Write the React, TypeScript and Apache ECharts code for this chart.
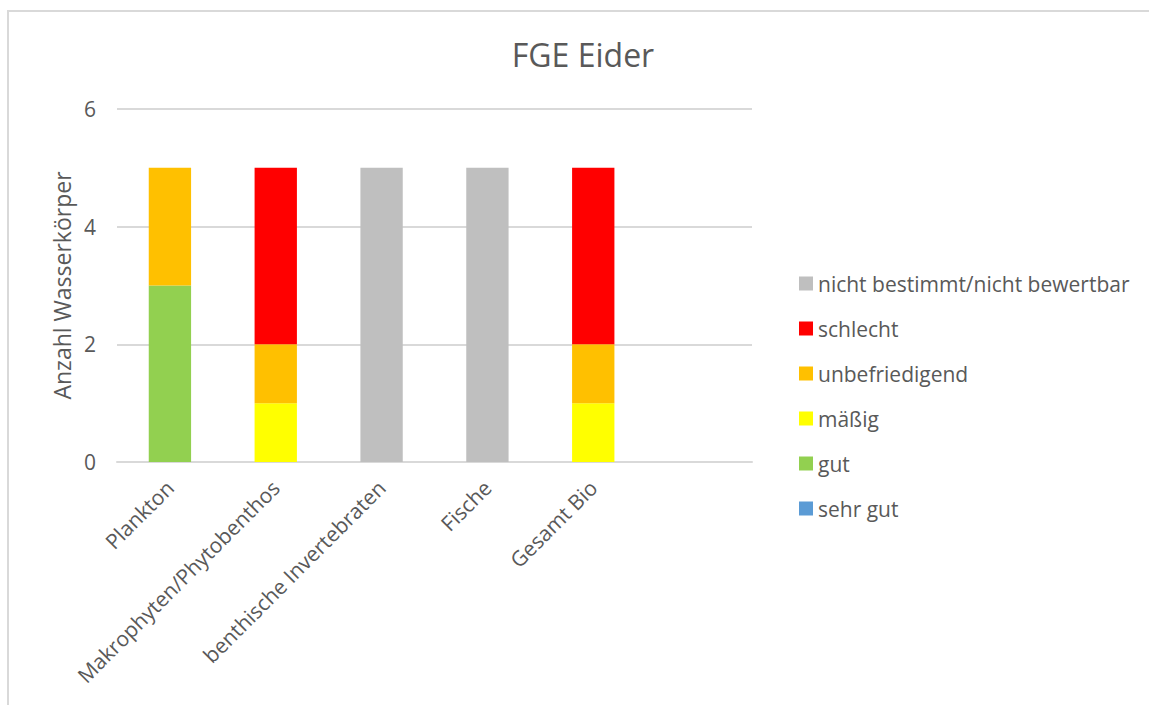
import React, { useEffect, useRef } from "react";
import * as echarts from "echarts";

// Categories (last slot is an empty placeholder column)
const categories = [
  "Plankton",
  "Makrophyten/Phytobenthos",
  "benthische Invertebraten",
  "Fische",
  "Gesamt Bio",
  "",
];

// Number of water bodies per status class, stacked bottom to top
const sehrGut = [0, 0, 0, 0, 0, 0];
const gut = [3, 0, 0, 0, 0, 0];
const maessig = [0, 1, 0, 0, 1, 0];
const unbefriedigend = [2, 1, 0, 0, 1, 0];
const schlecht = [0, 3, 0, 0, 3, 0];
const nichtBestimmt = [0, 0, 5, 5, 0, 0];

const yTicks = { min: 0, max: 6, interval: 2 };

const seriesDefs = [
  { name: "sehr gut", data: sehrGut, color: "#5B9BD5" },
  { name: "gut", data: gut, color: "#92D050" },
  { name: "mäßig", data: maessig, color: "#FFFF00" },
  { name: "unbefriedigend", data: unbefriedigend, color: "#FFC000" },
  { name: "schlecht", data: schlecht, color: "#FF0000" },
  { name: "nicht bestimmt/nicht bewertbar", data: nichtBestimmt, color: "#BFBFBF" },
];

const FONT = "'Open Sans', 'Noto Sans', sans-serif";
const TEXT = "#595959";
const LINE = "#D9D9D9";

export default function App() {
  const ref = useRef<HTMLDivElement>(null);

  useEffect(() => {
    if (!ref.current) return;
    const chart = echarts.init(ref.current, undefined, { renderer: "svg" });
    chart.setOption({
      animation: false,
      backgroundColor: "#ffffff",
      title: {
        text: "FGE Eider",
        left: 578,
        top: 33,
        textAlign: "center",
        textStyle: { fontFamily: FONT, fontSize: 32, fontWeight: "normal", color: TEXT },
      },
      grid: { left: 117, right: 397, top: 109, bottom: 243 },
      legend: {
        orient: "vertical",
        left: 794,
        top: 268,
        itemWidth: 14,
        itemHeight: 14,
        itemGap: 24,
        icon: "rect",
        data: seriesDefs.map((s) => s.name).reverse(),
        textStyle: { fontFamily: FONT, fontSize: 21, color: TEXT, lineHeight: 20 },
      },
      xAxis: {
        type: "category",
        data: categories,
        axisLine: { show: true, lineStyle: { color: LINE, width: 2 } },
        axisTick: { show: false },
        axisLabel: {
          rotate: 45,
          interval: 0,
          margin: 22,
          fontFamily: FONT,
          fontSize: 21,
          color: TEXT,
        },
      },
      yAxis: {
        type: "value",
        min: yTicks.min,
        max: yTicks.max,
        interval: yTicks.interval,
        name: "Anzahl Wasserkörper",
        nameLocation: "middle",
        nameGap: 38,
        nameTextStyle: { fontFamily: FONT, fontSize: 23, color: TEXT },
        axisLine: { show: false },
        axisTick: { show: false },
        axisLabel: { margin: 21, fontFamily: FONT, fontSize: 21, color: TEXT },
        splitLine: { lineStyle: { color: LINE, width: 2 } },
      },
      series: seriesDefs.map((s) => ({
        name: s.name,
        type: "bar",
        stack: "total",
        barWidth: "40%",
        data: s.data,
        itemStyle: { color: s.color },
      })),
      graphic: [
        {
          type: "polyline",
          silent: true,
          shape: { points: [[8, 705], [8, 11], [1149, 11]] },
          style: { stroke: LINE, lineWidth: 2, fill: "none" },
        },
      ],
    });
    return () => chart.dispose();
  }, []);

  return (
    <div
      ref={ref}
      style={{ position: "fixed", left: 0, top: 0, width: 1149, height: 705 }}
    />
  );
}
